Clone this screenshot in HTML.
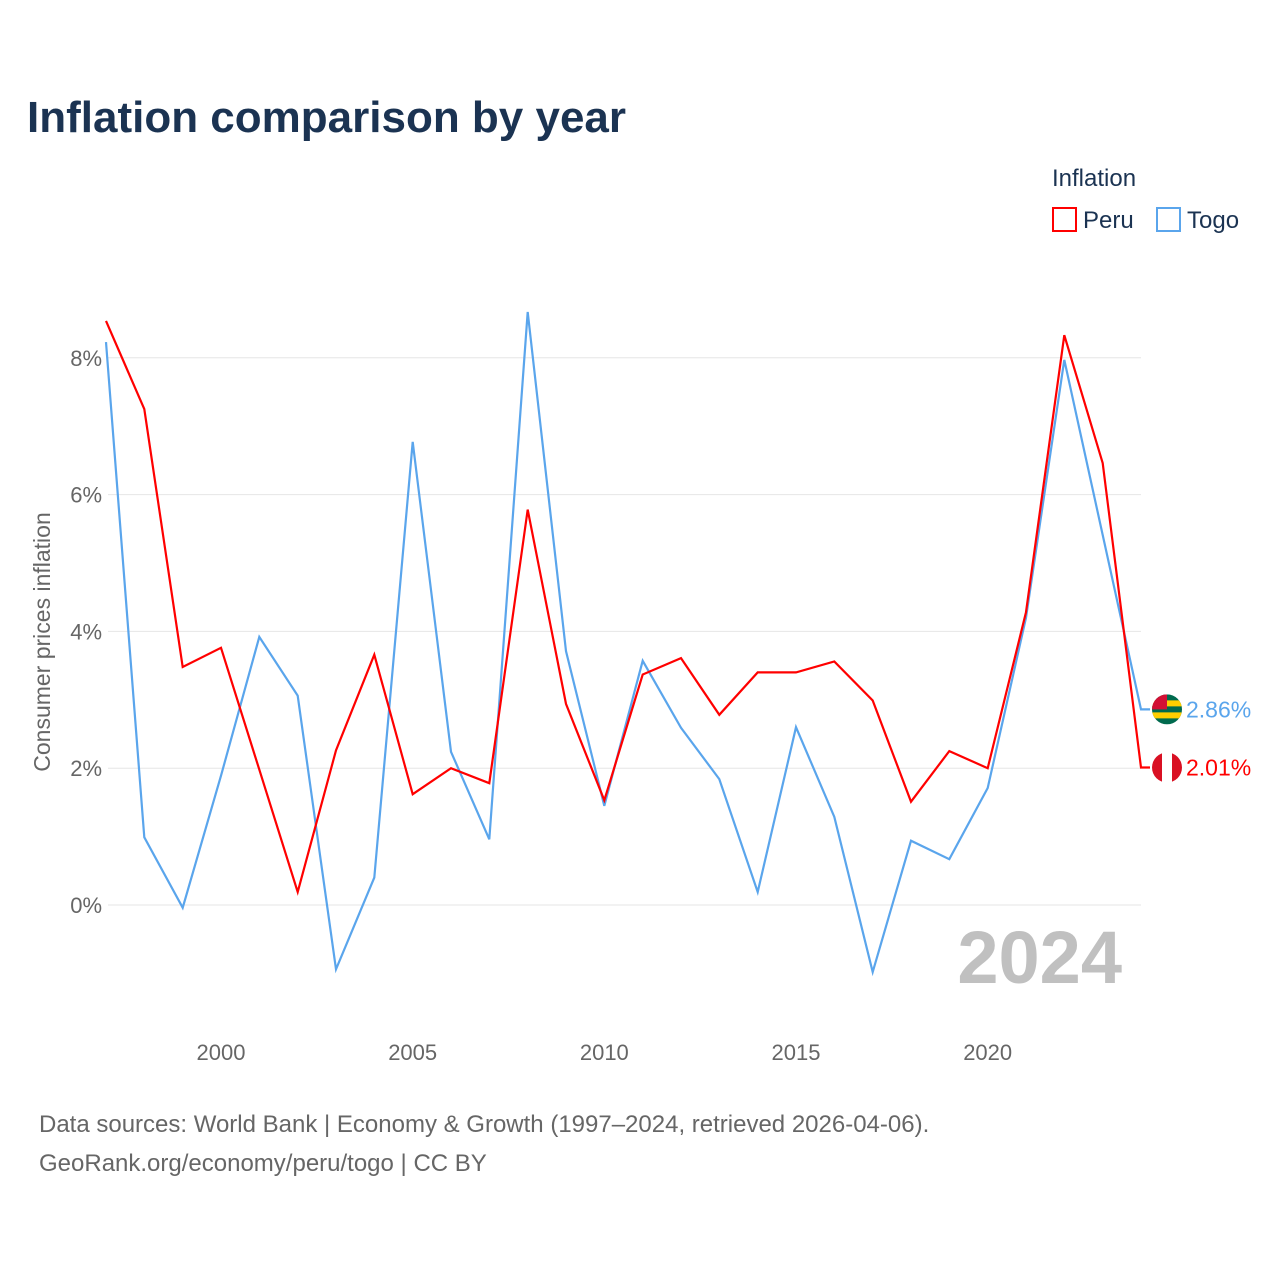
<!DOCTYPE html>
<html><head><meta charset="utf-8">
<style>
body{margin:0;background:#fff;font-family:"Liberation Sans",sans-serif;}
svg text{font-family:"Liberation Sans",sans-serif;}
</style></head>
<body>
<svg width="1280" height="1280" viewBox="0 0 1280 1280" xmlns="http://www.w3.org/2000/svg" id="chart">
<defs id="defs"></defs>
<text x="27" y="132" font-size="44" font-weight="bold" fill="#1b3352">Inflation comparison by year</text>
<g>
<text x="1052" y="186" font-size="24" fill="#1b3352">Inflation</text>
<g><rect x="1053" y="208" width="23" height="23" fill="none" stroke="#ff0000" stroke-width="2"/><text x="1083" y="228" font-size="24" fill="#1b3352">Peru</text></g>
<g><rect x="1157" y="208" width="23" height="23" fill="none" stroke="#5aa5ec" stroke-width="2"/><text x="1187" y="228" font-size="24" fill="#1b3352">Togo</text></g>
</g>
<g id="grid"></g>
<g id="lines"></g>
<text x="1122" y="983" text-anchor="end" font-size="74" font-weight="bold" fill="#c0c0c0">2024</text>
<text transform="translate(50,642) rotate(-90)" text-anchor="middle" font-size="23" fill="#666">Consumer prices inflation</text>
<text x="39" y="1132" font-size="24" fill="#666">Data sources: World Bank | Economy &amp; Growth (1997–2024, retrieved 2026-04-06).</text>
<text x="39" y="1171" font-size="24" fill="#666">GeoRank.org/economy/peru/togo | CC BY</text>
</svg>
<script>
const years=[1997,1998,1999,2000,2001,2002,2003,2004,2005,2006,2007,2008,2009,2010,2011,2012,2013,2014,2015,2016,2017,2018,2019,2020,2021,2022,2023,2024];
const peru=[8.54,7.25,3.48,3.76,1.98,0.19,2.26,3.66,1.62,2.0,1.78,5.78,2.94,1.53,3.37,3.61,2.78,3.40,3.40,3.56,2.99,1.51,2.25,2.0,4.28,8.33,6.46,2.01];
const togo=[8.23,0.99,-0.04,1.89,3.92,3.06,-0.94,0.40,6.77,2.24,0.96,8.67,3.71,1.45,3.57,2.59,1.84,0.19,2.60,1.29,-0.98,0.94,0.67,1.71,4.20,7.97,5.41,2.86];
const yTicks=[0,2,4,6,8];
const xTicks=[2000,2005,2010,2015,2020];
const NS="http://www.w3.org/2000/svg";
const xs=y=>106+(y-1997)*(1141-106)/27;
const ys=v=>905-v*68.4;
const grid=document.getElementById('grid'),lines=document.getElementById('lines'),defs=document.getElementById('defs');
function mk(tag,attrs,parent){const e=document.createElementNS(NS,tag);for(const k in attrs)e.setAttribute(k,attrs[k]);parent.appendChild(e);return e;}
yTicks.forEach(t=>{
 const l=mk('line',{x1:108,x2:1141,y1:ys(t),y2:ys(t),stroke:'#e6e6e6','stroke-width':1},grid);
 
 
 const tx=mk('text',{x:102,y:ys(t)+8,'text-anchor':'end','font-size':22,fill:'#666'},grid);
 tx.textContent=t+'%';
 
 
});
xTicks.forEach(t=>{
 const tx=mk('text',{x:xs(t),y:1060,'text-anchor':'middle','font-size':22,fill:'#666'},grid);
 tx.textContent=t;
 
 
});
function series(vals,color,name){
 let d=vals.map((v,i)=>(i?'L':'M')+xs(years[i]).toFixed(1)+','+ys(v).toFixed(1)).join(' ');
 d+=' L'+(xs(years[years.length-1])+9)+','+ys(vals[vals.length-1]).toFixed(1);
 const p=mk('path',{d:d,fill:'none',stroke:color,'stroke-width':2.2,'stroke-linejoin':'miter'},lines);
 
 
}
series(togo,'#5aa5ec','togo');
series(peru,'#ff0000','peru');
const lastT=togo[togo.length-1], lastP=peru[peru.length-1];
const cyT=ys(lastT), cyP=ys(lastP);
const c1=mk('clipPath',{id:'clipT'},defs);mk('circle',{cx:1167,cy:cyT,r:15},c1);
const c2=mk('clipPath',{id:'clipP'},defs);mk('circle',{cx:1167,cy:cyP,r:15},c2);
const gT=mk('g',{},lines);


const fT=mk('g',{'clip-path':'url(#clipT)'},gT);
mk('rect',{x:1152,y:cyT-15,width:30,height:30,fill:'#006a4e'},fT);
mk('rect',{x:1152,y:cyT-9,width:30,height:6,fill:'#ffce00'},fT);
mk('rect',{x:1152,y:cyT+3,width:30,height:6,fill:'#ffce00'},fT);
mk('rect',{x:1152,y:cyT-15,width:15,height:15,fill:'#d21034'},fT);
const tt=mk('text',{x:1186,y:cyT+8,'font-size':23,fill:'#5aa5ec'},gT);tt.textContent=lastT.toFixed(2)+'%';
const gP=mk('g',{},lines);


const fP=mk('g',{'clip-path':'url(#clipP)'},gP);
mk('rect',{x:1152,y:cyP-15,width:30,height:30,fill:'#fff'},fP);
mk('rect',{x:1152,y:cyP-15,width:10,height:30,fill:'#d91023'},fP);
mk('rect',{x:1172,y:cyP-15,width:10,height:30,fill:'#d91023'},fP);
const tp=mk('text',{x:1186,y:cyP+8,'font-size':23,fill:'#ff0000'},gP);tp.textContent=lastP.toFixed(2)+'%';
</script>
</body></html>
